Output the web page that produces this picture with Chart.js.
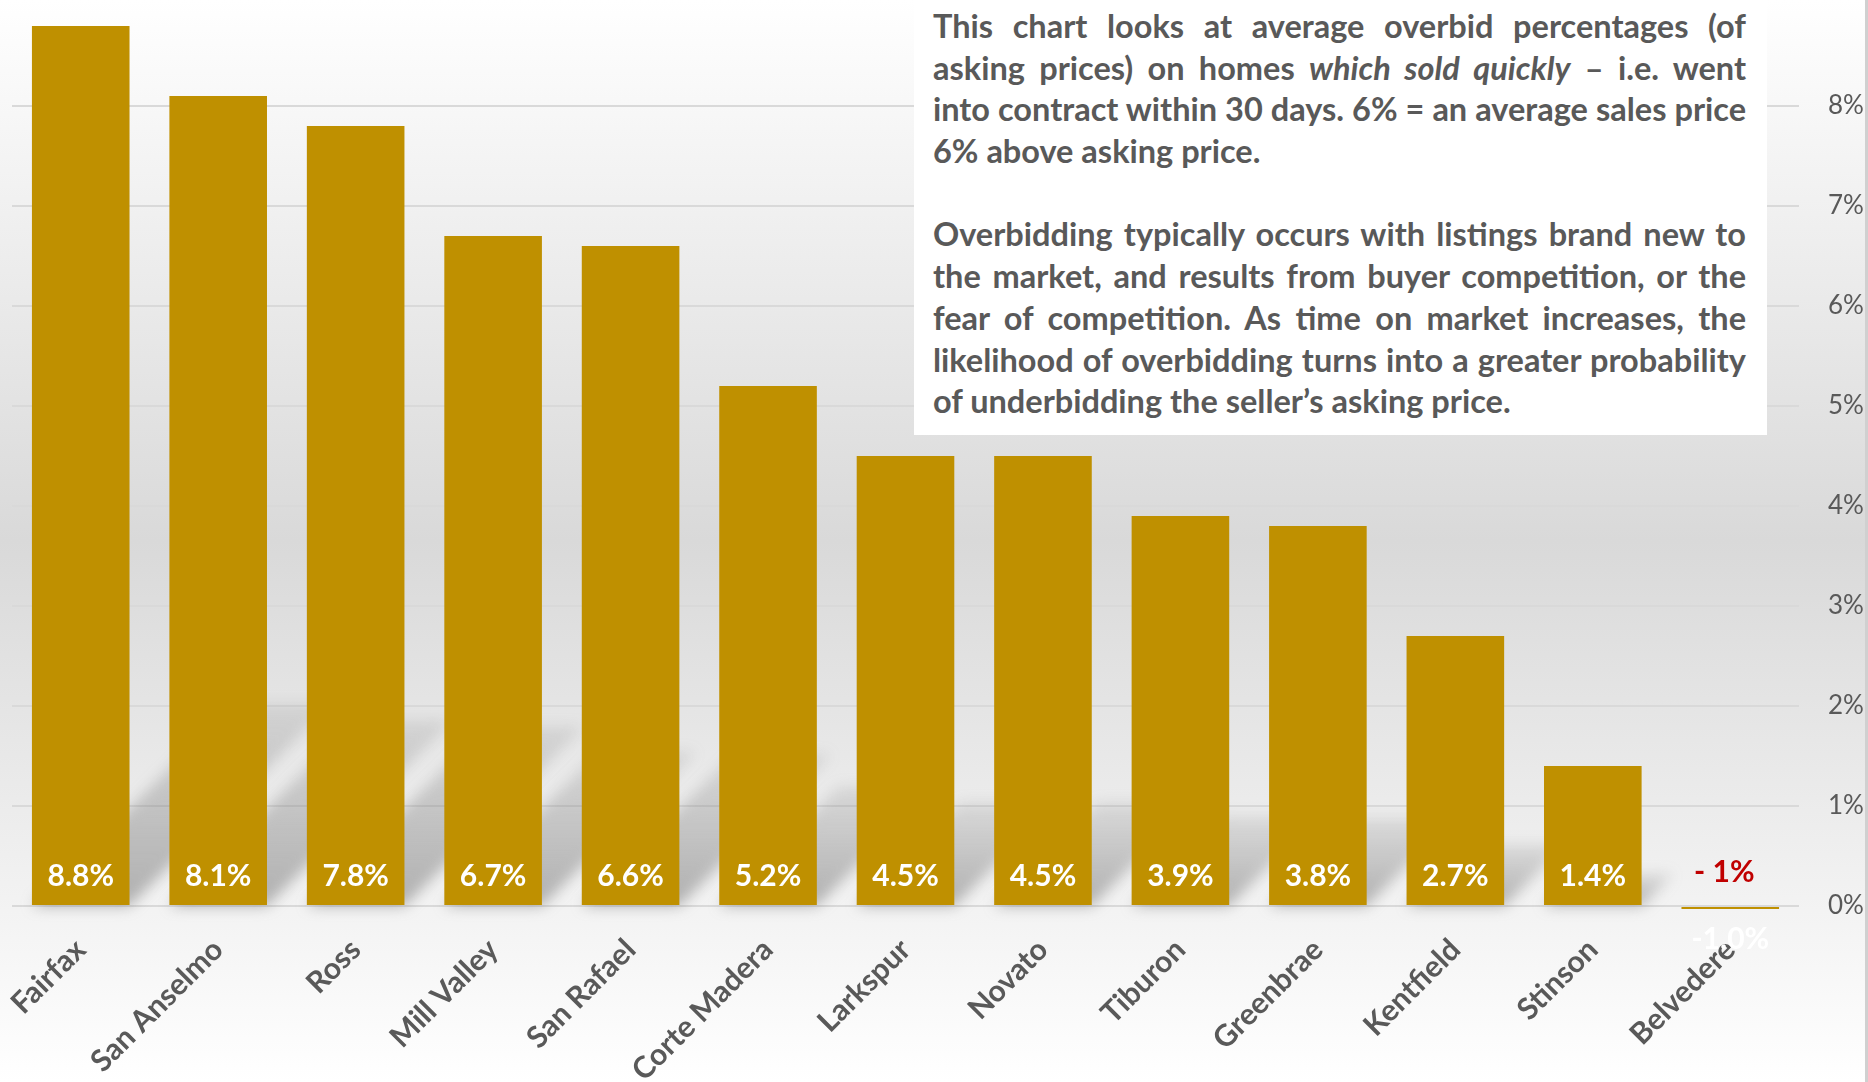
<!DOCTYPE html>
<html>
<head>
<meta charset="utf-8">
<script src="https://cdn.jsdelivr.net/npm/chart.js@4"></script>
<style>
  body { margin: 0; background: #fff; }
  #wrap { position: relative; width: 1868px; height: 1082px; overflow: hidden; }
  #note {
    position: absolute; left: 914px; top: 0; width: 853px; height: 435px;
    background: #fff; box-sizing: border-box; padding: 5px 21px 0 19px;
    font-family: Lato, sans-serif; font-weight: bold; font-size: 32.5px;
    color: #595959; line-height: 41.7px;
  }
  #note div { height: 41.7px; white-space: nowrap; }
  #note .j { text-align: justify; text-align-last: justify; white-space: normal; }
</style>
</head>
<body>
<div id="wrap">
  <canvas id="myChart" width="1868" height="1082"></canvas>
  <div id="note">
    <div class="j">This chart looks at average overbid percentages (of</div>
    <div class="j">asking prices) on homes <i>which sold quickly</i> – i.e. went</div>
    <div class="j">into contract within 30 days. 6% = an average sales price</div>
    <div>6% above asking price.</div>
    <div></div>
    <div class="j">Overbidding typically occurs with listings brand new to</div>
    <div class="j">the market, and results from buyer competition, or the</div>
    <div class="j">fear of competition. As time on market increases, the</div>
    <div class="j">likelihood of overbidding turns into a greater probability</div>
    <div>of underbidding the seller’s asking price.</div>
  </div>
</div>
<script>
const towns = ['Fairfax', 'San Anselmo', 'Ross', 'Mill Valley', 'San Rafael', 'Corte Madera',
  'Larkspur', 'Novato', 'Tiburon', 'Greenbrae', 'Kentfield', 'Stinson', 'Belvedere'];
// bar heights as drawn (Belvedere shows as a hairline just under zero)
const overbid = [8.8, 8.1, 7.8, 6.7, 6.6, 5.2, 4.5, 4.5, 3.9, 3.8, 2.7, 1.4, -0.03];
const barLabels = ['8.8%', '8.1%', '7.8%', '6.7%', '6.6%', '5.2%', '4.5%', '4.5%', '3.9%', '3.8%', '2.7%', '1.4%', '-1.0%'];
const noteLabels = ['', '', '', '', '', '', '', '', '', '', '', '', '- 1%'];
const yTicks = [0, 1, 2, 3, 4, 5, 6, 7, 8];

const gold = '#bf9000';
const gray = '#595959';

const bgPlugin = {
  id: 'bg',
  beforeDraw(chart) {
    const ctx = chart.ctx;
    const g = ctx.createLinearGradient(0, 0, 0, chart.height);
    g.addColorStop(0, '#ffffff');
    g.addColorStop(0.5, '#d9d9d9');
    g.addColorStop(1, '#ffffff');
    ctx.save();
    ctx.fillStyle = g;
    ctx.fillRect(0, 0, chart.width, chart.height);
    ctx.fillStyle = '#d0d0d0';
    ctx.fillRect(chart.width - 3, 0, 3, chart.height);
    ctx.restore();
  }
};

// soft perspective shadows falling up and to the right of each bar
const shadowPlugin = {
  id: 'barShadow',
  beforeDatasetsDraw(chart) {
    const ctx = chart.ctx;
    const zero = chart.scales.y.getPixelForValue(0);
    const bars = chart.getDatasetMeta(0).data;
    ctx.save();
    ctx.filter = 'blur(7px)';
    bars.forEach((bar, i) => {
      if (overbid[i] <= 0) return;
      const h = (zero - bar.y) * 0.23;
      const x0 = bar.x - bar.width / 2;
      const x1 = bar.x + bar.width / 2;
      const g = ctx.createLinearGradient(0, zero, 0, zero - h);
      g.addColorStop(0, 'rgba(110,110,110,0.5)');
      g.addColorStop(1, 'rgba(110,110,110,0.15)');
      ctx.fillStyle = g;
      ctx.beginPath();
      ctx.moveTo(x0, zero);
      ctx.lineTo(x1, zero);
      ctx.lineTo(x1 + h, zero - h);
      ctx.lineTo(x0 + h, zero - h);
      ctx.closePath();
      ctx.fill();
    });
    ctx.restore();
  }
};

const labelPlugin = {
  id: 'barText',
  afterDatasetsDraw(chart) {
    const ctx = chart.ctx;
    const zero = chart.scales.y.getPixelForValue(0);
    const bars = chart.getDatasetMeta(0).data;
    ctx.save();
    ctx.textAlign = 'center';
    ctx.textBaseline = 'middle';
    ctx.font = 'bold 30px Lato';
    bars.forEach((bar, i) => {
      ctx.fillStyle = '#ffffff';
      if (overbid[i] >= 0) {
        ctx.fillText(barLabels[i], bar.x, zero - 30);
      } else {
        ctx.fillText(barLabels[i], bar.x, zero + 33);
      }
      if (noteLabels[i]) {
        ctx.fillStyle = '#c00000';
        ctx.fillText(noteLabels[i], bar.x - 6, zero - 34);
      }
    });
    ctx.restore();
  }
};

new Chart(document.getElementById('myChart'), {
  type: 'bar',
  data: {
    labels: towns,
    datasets: [{
      data: overbid,
      backgroundColor: gold,
      categoryPercentage: 1,
      barPercentage: 0.71
    }]
  },
  options: {
    responsive: false,
    animation: false,
    layout: { padding: { left: 12, top: 0, right: 0, bottom: 0 } },
    plugins: { legend: { display: false }, tooltip: { enabled: false } },
    scales: {
      x: {
        grid: { display: false },
        border: { display: false },
        ticks: {
          color: gray,
          font: { family: 'Lato', weight: 'bold', size: 30 },
          maxRotation: 45,
          minRotation: 45,
          padding: 8
        },
        afterFit(scale) { scale.height = 166; }
      },
      y: {
        position: 'right',
        min: -0.1,
        max: 9.06,
        afterBuildTicks(scale) { scale.ticks = yTicks.map(v => ({ value: v })); },
        grid: { color: '#d9d9d9', lineWidth: 2, drawTicks: false },
        border: { display: false },
        ticks: {
          color: gray,
          padding: 29,
          font: { family: 'Lato', size: 26 },
          callback: (v) => v + '%'
        },
        afterFit(scale) {
          scale.width = 69;
          scale.paddingTop = 0;
          scale.paddingBottom = 0;
        }
      }
    }
  },
  plugins: [bgPlugin, shadowPlugin, labelPlugin]
});
</script>
</body>
</html>
